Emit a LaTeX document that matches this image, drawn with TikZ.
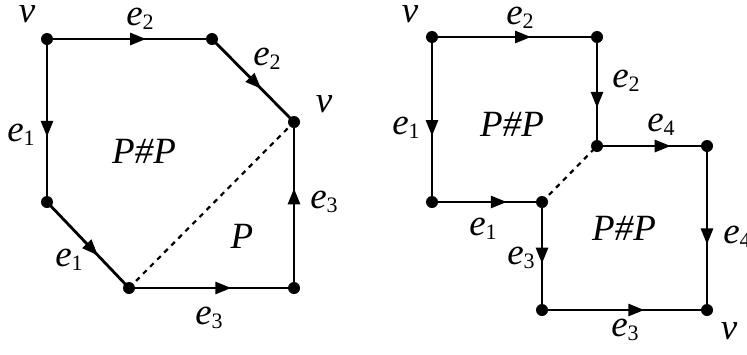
\documentclass[tikz,border=0pt]{standalone}
\usepackage{fontspec}
\setmainfont{Liberation Serif}[ItalicFont={Liberation Serif Italic}]
\usetikzlibrary{decorations.markings,arrows.meta}
\tikzset{
  dot/.style={circle,fill=black,inner sep=0pt,minimum size=12pt},
  edge/.style={line width=2.8pt},
  arr/.style={postaction={decorate},decoration={markings,mark=at position #1 with {\arrow{Triangle[length=16pt,width=12pt]}}}},
  cutline/.style={line width=2.2pt,dash pattern=on 5pt off 5pt},
  lbl/.style={font=\fontsize{37}{37}\selectfont\itshape,inner sep=0pt},
}
\newcommand\esub[1]{e\raisebox{-4pt}{\fontsize{22}{22}\selectfont\upshape #1}}
\begin{document}
\begin{tikzpicture}[x=1pt,y=-1pt]
\useasboundingbox (0,0) rectangle (747,354);
% left figure
\node[dot] (a1) at (47,39) {};
\node[dot] (a2) at (212,39) {};
\node[dot] (a3) at (294,122) {};
\node[dot] (a4) at (47,202) {};
\node[dot] (a5) at (129,288) {};
\node[dot] (a6) at (294,288) {};
\draw[cutline] (a5.center) -- (a3.center);
\draw[edge,arr=0.6] (a1.center) -- (a2.center);
\draw[edge,arr=0.6] (a2.center) -- (a3.center);
\draw[edge,arr=0.6] (a1.center) -- (a4.center);
\draw[edge,arr=0.62] (a4.center) -- (a5.center);
\draw[edge,arr=0.62] (a5.center) -- (a6.center);
\draw[edge,arr=0.6] (a6.center) -- (a3.center);
\node[lbl] (lv1) at (27,14) {v};
\node[lbl] (le2a) at (140,19) {\esub{2}};
\node[lbl] (le2b) at (267,59) {\esub{2}};
\node[lbl] (lv2) at (324,104) {v};
\node[lbl] (le1a) at (21,135) {\esub{1}};
\node[lbl] (lpp1) at (144,151) {P\#P};
\node[lbl] (le3a) at (324,202) {\esub{3}};
\node[lbl] (lp) at (242,236) {P};
\node[lbl] (le1b) at (69,260) {\esub{1}};
\node[lbl] (le3b) at (209,318) {\esub{3}};
% right figure
\node[dot] (b1) at (432,37) {};
\node[dot] (b2) at (597,37) {};
\node[dot] (b3) at (597,146) {};
\node[dot] (b4) at (707,146) {};
\node[dot] (b5) at (707,310) {};
\node[dot] (b6) at (542,310) {};
\node[dot] (b7) at (542,202) {};
\node[dot] (b8) at (432,202) {};
\draw[cutline] (b7.center) -- (b3.center);
\draw[edge,arr=0.6] (b1.center) -- (b2.center);
\draw[edge,arr=0.65] (b2.center) -- (b3.center);
\draw[edge,arr=0.67] (b3.center) -- (b4.center);
\draw[edge,arr=0.6] (b4.center) -- (b5.center);
\draw[edge,arr=0.62] (b6.center) -- (b5.center);
\draw[edge,arr=0.57] (b7.center) -- (b6.center);
\draw[edge,arr=0.68] (b8.center) -- (b7.center);
\draw[edge,arr=0.6] (b1.center) -- (b8.center);
\node[lbl] (rv1) at (410,14) {v};
\node[lbl] (re2a) at (520,18) {\esub{2}};
\node[lbl] (re2b) at (626,81) {\esub{2}};
\node[lbl] (rpp1) at (512,124) {P\#P};
\node[lbl] (re1a) at (406,128) {\esub{1}};
\node[lbl] (re4a) at (661,125) {\esub{4}};
\node[lbl] (re1b) at (483,229) {\esub{1}};
\node[lbl] (rpp2) at (624,228) {P\#P};
\node[lbl] (re4b) at (737,237) {\esub{4}};
\node[lbl] (re3a) at (521,258) {\esub{3}};
\node[lbl] (re3b) at (625,330) {\esub{3}};
\node[lbl] (rv2) at (729,331) {v};
\end{tikzpicture}
\end{document}
